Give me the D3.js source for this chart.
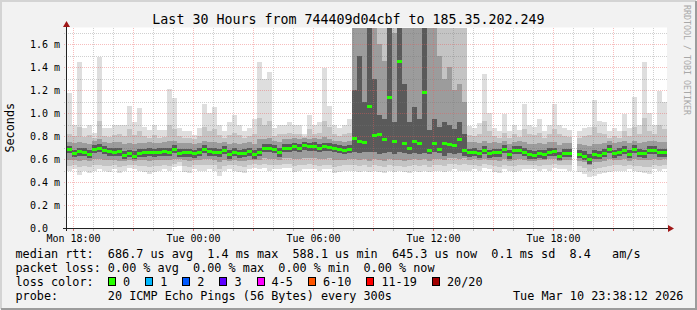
<!DOCTYPE html>
<html>
<head>
<meta charset="utf-8">
<script src="https://cdn.jsdelivr.net/npm/d3@7"></script>
<style>
  body { margin: 0; background: #f2f2f2; }
  text { font-family: "DejaVu Sans Mono", monospace; fill: #000; }
</style>
</head>
<body>
<svg id="chart" width="697" height="310"></svg>
<script>

// one value per 15 minutes, starting Mon 17:42 (ms)
var median = [
  .685,.65,.67,.665,.645,.69,.70,.68,.67,.665, .67,.635,.65,.63,.655,.66,.665,.66,.665,.67,
  .665,.685,.655,.66,.66,.65,.665,.69,.67,.665, .66,.675,.64,.665,.65,.655,.67,.64,.665,.70,
  .70,.685,.66,.70,.70,.71,.695,.72,.71,.715, .70,.71,.705,.695,.69,.68,.685,.78,.76,.75,
  1.06,.81,.82,.77,1.14,.76,1.45,.74,.70,.76, .74,1.18,.68,.74,.69,.74,.73,.72,.77,.68,
  .66,.665,.65,.675,.65,.66,.66,.685,.64,.675, .68,.665,.64,.635,.65,.64,.665,.67,.625,.655,
  .655,null,.645,.63,.60,.645,.635,.655,.685,.65, .665,.675,.645,.685,.655,.65,.675,.68,.66,.66
];

// smoke: spread of the 20 pings in each step (values above the top are off the chart)
var hi = [
  1.17,.90,1.44,.87,.90,.83,1.49,.87,.87,.90, .90,.90,1.06,.92,1.04,.88,.85,.90,.85,.85,
  1.21,1.13,.87,.84,.84,.81,.87,1.08,1.00,1.05, .90,.84,.92,.98,.90,.84,.87,.95,1.44,1.30,
  1.36,.87,.90,.90,.925,.90,.90,.82,.98,.90, .92,1.39,1.06,.90,.87,.90,.95,2.5,2.5,2.5,
  2.5,2.5,2.5,2.5,2.5,2.5,2.5,2.5,2.5,2.5, 2.5,2.5,2.5,2.5,2.5,2.5,2.5,2.5,2.5,2.5,
  .89,.87,.91,1.34,1.00,.87,.84,.99,.84,.90, .85,1.08,.90,.88,.95,.84,.90,1.08,.90,.87,
  .85,null,.84,.87,.88,1.11,.93,.92,.84,.87, .84,.99,.87,1.14,.90,1.44,1.00,.90,1.19,1.10
];
var p90 = [
  .82,.80,.88,.79,.81,.78,.93,.80,.79,.81, .82,.80,.86,.81,.84,.80,.78,.81,.78,.79,
  .90,.86,.80,.78,.78,.77,.80,.88,.84,.86, .81,.78,.81,.83,.81,.78,.80,.82,.96,.90,
  .93,.80,.82,.82,.83,.82,.82,.79,.86,.82, .83,.93,.88,.82,.80,.82,.83,2.5,2.5,2.5,
  2.5,2.5,2.5,2.5,2.5,2.5,2.5,2.5,2.5,2.5, 2.5,2.5,2.5,2.5,2.5,2.5,2.5,2.5,2.5,2.5,
  .81,.80,.82,.93,.84,.80,.78,.83,.78,.82, .79,.86,.82,.81,.83,.78,.82,.86,.82,.80,
  .79,null,.78,.80,.81,.88,.83,.82,.78,.80, .78,.84,.80,.88,.82,.96,.84,.82,.90,.86
];
var p75 = [
  .75,.74,.75,.74,.73,.76,.77,.75,.74,.75, .75,.73,.74,.73,.74,.74,.75,.74,.74,.75,
  .76,.76,.74,.74,.74,.73,.74,.76,.75,.75, .74,.75,.73,.74,.73,.74,.75,.73,.77,.77,
  .78,.76,.75,.77,.77,.78,.77,.78,.77,.78, .77,.79,.77,.76,.76,.75,.76,2.5,2.5,2.5,
  2.5,2.5,1.6,1.45,2.5,1.7,2.5,2.5,2.5,2.5, 1.8,2.5,2.5,2.5,1.5,1.3,1.4,1.2,1.25,1.1,
  .75,.75,.74,.76,.74,.75,.74,.76,.73,.75, .76,.75,.73,.73,.74,.73,.75,.75,.72,.74,
  .74,null,.73,.72,.71,.73,.73,.74,.76,.74, .75,.76,.74,.76,.74,.75,.76,.76,.75,.75
];
var p60 = [
  .71,.68,.70,.70,.68,.72,.73,.71,.70,.70, .70,.67,.68,.67,.69,.69,.70,.69,.70,.70,
  .70,.72,.69,.69,.69,.68,.70,.72,.70,.70, .69,.71,.68,.70,.68,.69,.70,.68,.70,.73,
  .73,.72,.70,.73,.73,.74,.73,.75,.74,.75, .73,.74,.74,.73,.72,.71,.72,1.20,1.50,1.10,
  2.5,1.30,.98,.95,2.5,.92,2.5,1.25,.92,1.05, .95,2.5,.85,.95,.88,.92,.90,.86,.92,.82,
  .69,.70,.68,.71,.68,.69,.69,.72,.68,.71, .71,.70,.68,.67,.68,.68,.70,.70,.66,.69,
  .69,null,.68,.67,.64,.68,.67,.69,.72,.68, .70,.71,.68,.72,.69,.68,.71,.71,.69,.69
];
var p40 = [
  .65,.62,.63,.63,.61,.65,.66,.64,.63,.63, .63,.60,.62,.60,.62,.62,.63,.62,.63,.63,
  .63,.65,.62,.62,.62,.61,.63,.65,.63,.63, .62,.64,.60,.63,.61,.62,.63,.60,.63,.66,
  .66,.65,.62,.66,.66,.67,.66,.68,.67,.67, .66,.67,.67,.66,.65,.64,.65,.66,.65,.66,
  .66,.66,.64,.65,.66,.64,.66,.65,.64,.65, .64,.65,.64,.66,.65,.63,.65,.64,.65,.63,
  .62,.63,.61,.64,.61,.62,.62,.65,.60,.64, .64,.63,.60,.60,.61,.60,.63,.63,.59,.62,
  .62,null,.61,.59,.56,.60,.60,.62,.65,.61, .63,.64,.61,.65,.62,.61,.64,.64,.62,.62
];
var p25 = [
  .59,.59,.58,.59,.58,.60,.60,.59,.59,.59, .58,.58,.59,.58,.59,.59,.58,.59,.59,.59,
  .59,.60,.60,.59,.58,.59,.59,.60,.60,.59, .57,.59,.58,.59,.58,.58,.59,.59,.59,.61,
  .60,.60,.59,.61,.61,.60,.60,.61,.61,.61, .60,.60,.61,.59,.59,.59,.60,.60,.59,.60,
  .58,.60,.59,.58,.60,.59,.59,.58,.59,.60, .59,.60,.58,.60,.60,.59,.61,.61,.60,.61,
  .59,.60,.59,.60,.59,.59,.58,.60,.58,.59, .60,.59,.58,.58,.59,.59,.60,.60,.58,.59,
  .59,null,.58,.57,.55,.57,.57,.58,.60,.59, .59,.60,.58,.60,.59,.59,.59,.60,.59,.60
];
var p10 = [
  .54,.55,.53,.54,.53,.55,.55,.54,.54,.55, .53,.54,.55,.55,.54,.54,.53,.54,.54,.55,
  .54,.56,.57,.54,.53,.55,.55,.55,.55,.55, .51,.54,.55,.55,.54,.53,.55,.56,.55,.56,
  .55,.55,.55,.56,.56,.54,.55,.55,.56,.55, .54,.55,.55,.53,.54,.55,.55,.55,.54,.55,
  .53,.55,.54,.53,.55,.54,.54,.53,.54,.55, .54,.55,.53,.55,.55,.54,.56,.56,.55,.56,
  .55,.55,.54,.56,.55,.54,.53,.55,.54,.54, .55,.55,.55,.55,.54,.55,.55,.56,.55,.55,
  .55,null,.54,.52,.50,.51,.52,.53,.54,.55, .55,.54,.55,.54,.54,.53,.53,.55,.54,.55
];
var lo = [
  .50,.51,.46,.50,.48,.50,.51,.50,.49,.51, .48,.50,.52,.51,.50,.49,.47,.49,.50,.51,
  .50,.53,.54,.49,.48,.51,.50,.50,.51,.50, .45,.50,.51,.50,.49,.48,.51,.52,.51,.52,
  .50,.51,.51,.52,.52,.49,.50,.51,.51,.51, .50,.51,.51,.48,.49,.50,.50,.50,.49,.50,
  .49,.50,.49,.48,.50,.49,.50,.49,.48,.50, .49,.50,.49,.50,.50,.49,.50,.51,.50,.50,
  .50,.51,.50,.52,.51,.49,.48,.51,.50,.49, .50,.51,.51,.51,.50,.51,.50,.52,.51,.51,
  .50,null,.49,.47,.44,.45,.47,.48,.49,.50, .50,.50,.51,.50,.49,.48,.47,.51,.50,.51
];

var yTicks = [0, 0.2, 0.4, 0.6, 0.8, 1.0, 1.2, 1.4, 1.6];
var yTickLabels = ["0.0", "0.2 m", "0.4 m", "0.6 m", "0.8 m", "1.0 m", "1.2 m", "1.4 m", "1.6 m"];

var lossLabels = ["0", "1", "2", "3", "4-5", "6-10", "11-19", "20/20"];
var lossColors = ["#26ff00", "#00b8ff", "#0059ff", "#5e00ff", "#ff00ff", "#ff5500", "#ff0000", "#a10000"];

var title = "Last 30 Hours from 744409d04cbf to 185.35.202.249";
var legendLines = [
  "median rtt:  686.7 us avg  1.4 ms max  588.1 us min  645.3 us now  0.1 ms sd  8.4   am/s",
  "packet loss: 0.00 % avg  0.00 % max  0.00 % min  0.00 % now",
  "loss color:",
  "probe:       20 ICMP Echo Pings (56 Bytes) every 300s"
];
var stamp = "Tue Mar 10 23:38:12 2026";

var W = 697, H = 310;
var plot = { left: 67, right: 667, top: 27.5, bottom: 228 };
var step = 15;
var start = new Date(2026, 2, 9, 17, 42);
var end = d3.timeMinute.offset(start, median.length * step);
var times = median.map(function(d, i) { return d3.timeMinute.offset(start, i * step); });

var svg = d3.select("#chart");

var x = d3.scaleTime().domain([start, end]).range([plot.left, plot.right]);
var y = d3.scaleLinear().domain([0, 1.7435]).range([plot.bottom, plot.top]);
var ymax = y.domain()[1];

// background + bevel
svg.append("rect").attr("width", W).attr("height", H).attr("fill", "#f2f2f2");
svg.append("path").attr("d", "M1,309V1H696").attr("fill", "none").attr("stroke", "#d4d4d4").attr("stroke-width", 2);
svg.append("path").attr("d", "M1,309H696V1").attr("fill", "none").attr("stroke", "#9c9c9c").attr("stroke-width", 2);

svg.append("rect")
  .attr("x", plot.left).attr("y", plot.top)
  .attr("width", plot.right - plot.left).attr("height", plot.bottom - plot.top)
  .attr("fill", "#fff");

svg.append("clipPath").attr("id", "clip").append("rect")
  .attr("x", plot.left).attr("y", plot.top)
  .attr("width", plot.right - plot.left).attr("height", plot.bottom - plot.top);

var chart = svg.append("g").attr("clip-path", "url(#clip)").attr("shape-rendering", "crispEdges");

//smoke, outer band lightest
var bands = [[lo, hi, "#dedede"], [p10, p90, "#c4c4c4"], [p25, p75, "#9c9c9c"], [p40, p60, "#5a5a5a"]];
var idx = d3.range(median.length);

bands.forEach(function(b) {
  chart.append("g").selectAll("rect")
    .data(idx.filter(function(i) { return b[0][i] != null; }))
    .enter().append("rect")
    .attr("x", function(i) { return x(times[i]); })
    .attr("width", function(i) { return x(d3.timeMinute.offset(times[i], step)) - x(times[i]); })
    .attr("y", function(i) { return y(Math.min(b[1][i], ymax)); })
    .attr("height", function(i) { return y(b[0][i]) - y(Math.min(b[1][i], ymax)); })
    .attr("fill", b[2]);
});

// grid on top of the smoke
var hours = x.ticks(d3.timeHour.every(1));
var grid = svg.append("g").attr("shape-rendering", "crispEdges");

grid.selectAll(".vgrid").data(hours).enter().append("line")
  .attr("x1", function(d) { return Math.round(x(d)) + 0.5; })
  .attr("x2", function(d) { return Math.round(x(d)) + 0.5; })
  .attr("y1", plot.top).attr("y2", plot.bottom)
  .attr("stroke", function(d) { return d.getHours() % 3 === 0 ? "rgba(235,90,90,0.4)" : "rgba(120,120,120,0.35)"; })
  .attr("stroke-dasharray", "1,1");

var yMinor = y.ticks(17).filter(function(v) { return v > 0; });
grid.selectAll(".hgrid").data(yMinor).enter().append("line")
  .attr("x1", plot.left - 3).attr("x2", plot.right)
  .attr("y1", function(d) { return Math.round(y(d)) + 0.5; })
  .attr("y2", function(d) { return Math.round(y(d)) + 0.5; })
  .attr("stroke", function(d) { return Math.round(d * 10) % 2 === 0 ? "rgba(235,90,90,0.4)" : "rgba(120,120,120,0.35)"; })
  .attr("stroke-dasharray", "1,1");

// median rtt, coloured by loss (no loss -> green)
svg.append("g").attr("clip-path", "url(#clip)").attr("shape-rendering", "crispEdges")
  .selectAll("rect")
  .data(idx.filter(function(i) { return median[i] != null; }))
  .enter().append("rect")
  .attr("x", function(i) { return x(times[i]); })
  .attr("width", function(i) { return x(d3.timeMinute.offset(times[i], step)) - x(times[i]); })
  .attr("y", function(i) { return Math.round(y(median[i])) - 1; })
  .attr("height", 3)
  .attr("fill", lossColors[0]);

// axes
var axisCol = "#222", arrowCol = "#a01818";
var ax = svg.append("g").attr("shape-rendering", "crispEdges");
ax.append("line").attr("x1", plot.left - 4).attr("x2", plot.right + 3)
  .attr("y1", plot.bottom + 0.5).attr("y2", plot.bottom + 0.5).attr("stroke", axisCol);
ax.append("line").attr("x1", plot.left - 0.5).attr("x2", plot.left - 0.5)
  .attr("y1", plot.bottom + 3).attr("y2", plot.top - 1).attr("stroke", axisCol);

ax.selectAll(".xtick").data(hours).enter().append("line")
  .attr("x1", function(d) { return Math.round(x(d)) + 0.5; })
  .attr("x2", function(d) { return Math.round(x(d)) + 0.5; })
  .attr("y1", plot.bottom + 1).attr("y2", plot.bottom + 3)
  .attr("stroke", function(d) { return d.getHours() % 3 === 0 ? "#e07070" : "#bbb"; });

svg.append("path")
  .attr("d", "M" + (plot.left - 0.5) + "," + (plot.top - 6.5) + "l-3.5,6h7z")
  .attr("fill", arrowCol);
svg.append("path")
  .attr("d", "M" + (plot.right + 7) + "," + (plot.bottom + 0.5) + "l-6,-3.5v7z")
  .attr("fill", arrowCol);

svg.append("g").selectAll("text").data(yTicks).enter().append("text")
  .attr("x", 30).attr("y", function(d) { return y(d) + 3.7; })
  .style("font-size", "10px")
  .text(function(d, i) { return yTickLabels[i]; });

svg.append("g").selectAll("text")
  .data(hours.filter(function(d) { return d.getHours() % 6 === 0; }))
  .enter().append("text")
  .attr("x", function(d) { return Math.round(x(d)) + 0.5; })
  .attr("y", 241.5)
  .attr("text-anchor", "middle")
  .style("font-size", "10px")
  .text(d3.timeFormat("%a %H:%M"));

// titles
svg.append("text").attr("x", W / 2).attr("y", 24)
  .attr("text-anchor", "middle").style("font-size", "13.3px").text(title);

svg.append("text")
  .attr("transform", "translate(14," + (plot.top + plot.bottom) / 2 + ") rotate(-90)")
  .attr("text-anchor", "middle").style("font-size", "11.8px").text("Seconds");

svg.append("text")
  .attr("transform", "translate(683.5,5) rotate(90)")
  .style("font-size", "8.3px").style("fill", "#a8a8a8")
  .text("RRDTOOL / TOBI OETIKER");

// legend
var lx = 15.5, cw = 7.12;
var legend = svg.append("g").style("font-size", "11.8px");
legend.selectAll("text").data(legendLines).enter().append("text")
  .attr("x", lx).attr("y", function(d, i) { return 258 + i * 14; })
  .attr("xml:space", "preserve").style("white-space", "pre")
  .text(function(d) { return d; });

legend.append("text").attr("x", 513).attr("y", 300).text(stamp);

var bx = lx + 13 * cw;
lossLabels.forEach(function(l, i) {
  legend.append("rect")
    .attr("x", Math.round(bx) + 0.5).attr("y", 277.5)
    .attr("width", 7).attr("height", 8)
    .attr("fill", lossColors[i]).attr("stroke", "#000").attr("shape-rendering", "crispEdges");
  legend.append("text").attr("x", bx + 15).attr("y", 286).text(l);
  bx = bx + 15 + l.length * cw + 15;
});

</script>
</body>
</html>
